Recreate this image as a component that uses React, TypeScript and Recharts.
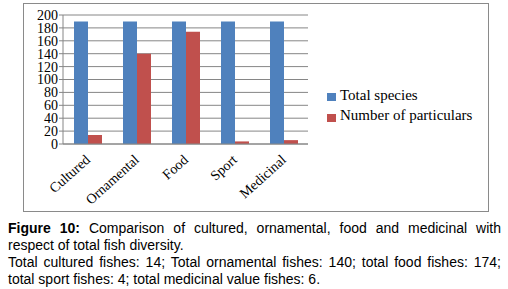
import { BarChart, Bar, XAxis, YAxis, CartesianGrid } from "recharts";

const categories = ["Cultured", "Ornamental", "Food", "Sport", "Medicinal"];
const totalSpecies = [190, 190, 190, 190, 190];
const particulars = [14, 140, 174, 4, 6];
const seriesNames = ["Total species", "Number of particulars"];
const yTicks = [0, 20, 40, 60, 80, 100, 120, 140, 160, 180, 200];

const BLUE = "#4F81BD";
const RED = "#C0504D";
const GRID = "#868686";
const SERIF = '"Liberation Serif", "Times New Roman", serif';
const SANS = '"Liberation Sans", Arial, sans-serif';

const data = categories.map((name, i) => ({
  name,
  total: totalSpecies[i],
  part: particulars[i],
}));

// rotated category labels, end of text sits just under the category centre
const XTick = ({ x, y, payload }: any) => (
  <g transform={`translate(${x + 3.5},${y + 17}) rotate(-42)`}>
    <text textAnchor="end" fill="#000" fontSize={14} fontFamily={SERIF}>
      {payload.value}
    </text>
  </g>
);

export default function App() {
  const colors = [BLUE, RED];
  return (
    <div style={{ position: "absolute", left: 0, top: 0, width: 508, height: 289, background: "#fff" }}>
      <div
        style={{
          position: "absolute",
          left: 23,
          top: 3,
          width: 466,
          height: 209,
          boxSizing: "border-box",
          border: "1px solid #8a8a8a",
        }}
      />
      <div style={{ position: "absolute", left: 23, top: 3 }}>
        <BarChart
          width={466}
          height={225}
          data={data}
          margin={{ top: 12, right: 181, left: 0, bottom: 16 }}
          barGap={0}
        >
          <CartesianGrid vertical={false} stroke={GRID} />
          <XAxis
            dataKey="name"
            height={68}
            tickSize={0}
            tickMargin={0}
            axisLine={{ stroke: GRID }}
            tickLine={false}
            tick={<XTick />}
            interval={0}
          />
          <YAxis
            width={40}
            domain={[0, 200]}
            ticks={yTicks}
            tickSize={4}
            tickMargin={1}
            axisLine={{ stroke: GRID }}
            tickLine={{ stroke: GRID }}
            tick={{ fill: "#000", fontSize: 14, fontFamily: SERIF }}
            interval={0}
          />
          <Bar dataKey="total" fill={BLUE} barSize={14} isAnimationActive={false} />
          <Bar dataKey="part" fill={RED} barSize={14} isAnimationActive={false} />
        </BarChart>
      </div>
      {seriesNames.map((s, i) => (
        <div key={s}>
          <div
            style={{
              position: "absolute",
              left: 327,
              top: 93 + i * 21,
              width: 9,
              height: 8,
              background: colors[i],
            }}
          />
          <div
            style={{
              position: "absolute",
              left: 340,
              top: 88 + i * 20,
              fontFamily: SERIF,
              fontSize: 15,
              lineHeight: "15px",
              color: "#000",
              whiteSpace: "nowrap",
            }}
          >
            {s}
          </div>
        </div>
      ))}
      <div
        style={{
          position: "absolute",
          left: 8,
          top: 220,
          width: 493,
          fontFamily: SANS,
          fontSize: 14,
          lineHeight: "17px",
          color: "#000",
          textAlign: "justify",
        }}
      >
        <b>Figure 10:</b> Comparison of cultured, ornamental, food and medicinal with respect of total
        fish diversity.
        <br />
        Total cultured fishes: 14; Total ornamental fishes: 140; total food fishes: 174; total sport
        fishes: 4; total medicinal value fishes: 6.
      </div>
    </div>
  );
}
